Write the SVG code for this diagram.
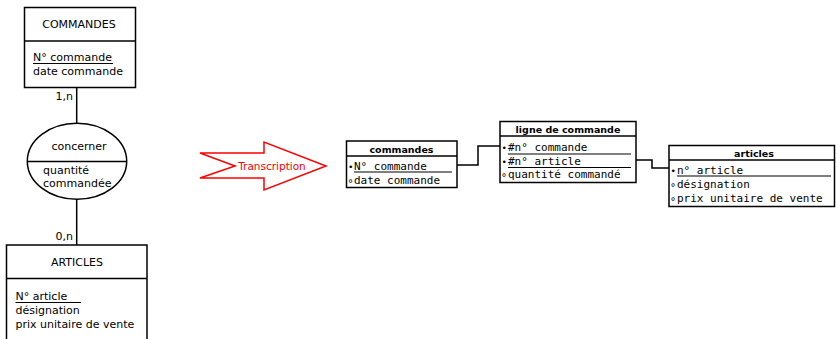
<svg xmlns="http://www.w3.org/2000/svg" width="836" height="339" viewBox="0 0 836 339">
<style>
.box{fill:#fff;stroke:#000;stroke-width:1.5}
.ln{fill:none;stroke:#000;stroke-width:1.5}
.ul{stroke:#000;stroke-width:1.2}
.s{font-family:"DejaVu Sans","Liberation Sans",sans-serif;font-size:11px;fill:#000}
.t{font-family:"DejaVu Sans","Liberation Sans",sans-serif;font-size:9.5px;font-weight:bold;fill:#000}
.m{font-family:"DejaVu Sans Mono","Liberation Mono",monospace;font-size:11px;fill:#000}
.b{font-size:9px}
.c{font-size:10px}
</style>
<rect width="836" height="339" fill="#fff"/>
<g id="connectors">
<line class="ln" x1="76.7" y1="88" x2="76.7" y2="123.5"/>
<line class="ln" x1="76.7" y1="199" x2="76.7" y2="245"/>
<text class="s" x="73" y="100" text-anchor="end">1,n</text>
<text class="s" x="73" y="240" text-anchor="end">0,n</text>
<polyline class="ln" points="457,165 478,165 478,146 500,146"/>
<polyline class="ln" points="636,160 652,160 652,168 669,168"/>
</g>
<g id="COMMANDES">
<rect class="box" x="24.5" y="7.5" width="111" height="80"/>
<line class="ln" x1="24.5" y1="41" x2="135.5" y2="41"/>
<text class="s" x="79" y="28" text-anchor="middle">COMMANDES</text>
<text class="s" x="33" y="61">N° commande</text>
<line class="ul" x1="33" y1="63.5" x2="113" y2="63.5"/>
<text class="s" x="33" y="75">date commande</text>
</g>
<g id="concerner">
<ellipse class="box" cx="77" cy="161.3" rx="49.7" ry="38"/>
<line class="ln" x1="27.3" y1="161.5" x2="126.7" y2="161.5"/>
<text class="s" x="79" y="150" text-anchor="middle">concerner</text>
<text class="s" x="43" y="173.5">quantité</text>
<text class="s" x="43" y="187">commandée</text>
</g>
<g id="ARTICLES">
<rect class="box" x="6.5" y="245" width="140.5" height="110"/>
<line class="ln" x1="6.5" y1="278.5" x2="147" y2="278.5"/>
<text class="s" x="77" y="266" text-anchor="middle">ARTICLES</text>
<text class="s" x="15.5" y="299.5">N° article</text>
<line class="ul" x1="15.5" y1="302.5" x2="81" y2="302.5"/>
<text class="s" x="15.5" y="313.5">désignation</text>
<text class="s" x="15.5" y="327.5">prix unitaire de vente</text>
</g>
<g id="transcription">
<polygon points="200,153 264,153 264,142 326,166 264,190 264,178 200,178 235,166" fill="#fff" stroke="#f00" stroke-width="1.5"/>
<text x="272" y="169.5" text-anchor="middle" font-family="DejaVu Sans, Liberation Sans, sans-serif" font-size="10.5" fill="#f00">Transcription</text>
</g>
<g id="commandes">
<rect class="box" x="346.5" y="141" width="110.5" height="46.5"/>
<line class="ln" x1="346.5" y1="156" x2="457" y2="156"/>
<text class="t" x="401.5" y="152.5" text-anchor="middle">commandes</text>
<text class="m" x="348" y="169.5"><tspan class="b">•</tspan><tspan x="354">N° commande</tspan></text>
<line class="ul" x1="354" y1="172" x2="452" y2="172"/>
<text class="m" x="347.5" y="183.5"><tspan class="c" dy="3">°</tspan><tspan x="354" dy="-3">date commande</tspan></text>
</g>
<g id="ligne_de_commande">
<rect class="box" x="500" y="121.5" width="136" height="61"/>
<line class="ln" x1="500" y1="136" x2="636" y2="136"/>
<text class="t" x="568" y="132.5" text-anchor="middle">ligne de commande</text>
<text class="m" x="501.5" y="151"><tspan class="b">•</tspan><tspan x="508">#n° commande</tspan></text>
<line class="ul" x1="508" y1="154" x2="631" y2="154"/>
<text class="m" x="501.5" y="164.5"><tspan class="b">•</tspan><tspan x="508">#n° article</tspan></text>
<line class="ul" x1="508" y1="167.5" x2="631" y2="167.5"/>
<text class="m" x="501" y="178"><tspan class="c" dy="3">°</tspan><tspan x="508" dy="-3">quantité commandé</tspan></text>
</g>
<g id="articles">
<rect class="box" x="669" y="145.5" width="165.5" height="61"/>
<line class="ln" x1="669" y1="160" x2="834.5" y2="160"/>
<text class="t" x="754" y="156.5" text-anchor="middle">articles</text>
<text class="m" x="670.5" y="173.5"><tspan class="b">•</tspan><tspan x="677">n° article</tspan></text>
<line class="ul" x1="677" y1="176" x2="831" y2="176"/>
<text class="m" x="670" y="187.5"><tspan class="c" dy="3">°</tspan><tspan x="677" dy="-3">désignation</tspan></text>
<text class="m" x="670" y="201.5"><tspan class="c" dy="3">°</tspan><tspan x="677" dy="-3">prix unitaire de vente</tspan></text>
</g>
</svg>
